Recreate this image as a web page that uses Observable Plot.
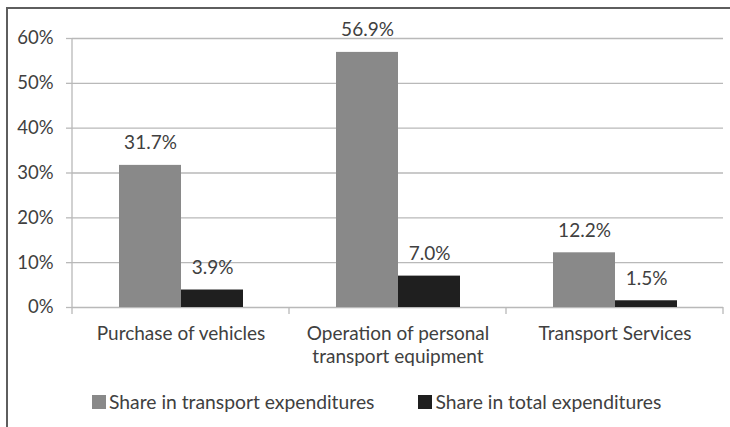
<!DOCTYPE html>
<html>
<head>
<meta charset="utf-8">
<script src="https://cdn.jsdelivr.net/npm/d3@7"></script>
<script src="https://cdn.jsdelivr.net/npm/@observablehq/plot@0.6"></script>
<style>
  html, body { margin: 0; padding: 0; background: #fff; width: 730px; height: 427px; overflow: hidden; }
  #wrap { position: relative; width: 730px; height: 427px; font-family: Lato, "Open Sans", sans-serif; color: #404040; }
  #border { position: absolute; left: 6px; top: 7px; width: 800px; height: 500px; border-top: 2px solid #5e5e5e; border-left: 2px solid #5e5e5e; pointer-events: none; }
  #chart { position: absolute; left: 0; top: 0; }
  #legend { position: absolute; left: 92px; top: 391px; display: flex; align-items: center; font-size: 19.3px; line-height: 22px; white-space: nowrap; }
  .item { display: flex; align-items: center; }
  .sw { width: 14px; height: 14px; margin-right: 3px; }
</style>
</head>
<body>
<div id="wrap">
  <div id="chart"></div>
  <div id="legend"></div>
  <div id="border"></div>
</div>
<script>
const categories = ["Purchase of vehicles", "Operation of personal\ntransport equipment", "Transport Services"];
const series = ["Share in transport expenditures", "Share in total expenditures"];
const transportShare = [0.317, 0.569, 0.122];
const totalShare = [0.039, 0.070, 0.015];
const yTicks = [0, 0.1, 0.2, 0.3, 0.4, 0.5, 0.6];
const seriesColors = ["#898989", "#1f1f1f"];

const data = categories.flatMap((c, i) => [
  {category: c, series: series[0], value: transportShare[i]},
  {category: c, series: series[1], value: totalShare[i]}
]);

const gridColor = "#b9b9b9";
const textColor = "#404040";

const plot = Plot.plot({
  width: 730,
  height: 380,
  marginLeft: 72,
  marginRight: 7,
  marginTop: 38,
  marginBottom: 73,
  style: {fontFamily: "Lato, 'Open Sans', sans-serif", fontSize: "19px", color: textColor, background: "transparent", overflow: "visible"},
  fx: {domain: categories, paddingInner: 0, paddingOuter: 0, label: null},
  x: {domain: series, paddingInner: 0, paddingOuter: 0.75, axis: null},
  y: {domain: [0, 0.6], label: null},
  color: {domain: series, range: seriesColors},
  marks: [
    Plot.gridY(yTicks, {stroke: gridColor, strokeOpacity: 1, strokeWidth: 1.3}),
    Plot.axisY(yTicks, {tickSize: 6, tickPadding: 13, tickFormat: d3.format(".0%"), stroke: gridColor, strokeWidth: 1.3, fill: textColor, label: null, fontSize: 18.5}),
    Plot.axisFx({anchor: "bottom", tickSize: 0, tickPadding: 16, lineAnchor: "top", lineHeight: 1.22, fill: textColor, label: null, fontSize: 19}),
    Plot.barY(data, {fx: "category", x: "series", y: "value", fill: "series"}),
    Plot.text(data, {fx: "category", x: "series", y: "value", text: d => d3.format(".1%")(d.value), dy: -22, fill: textColor, fontSize: 19})
  ]
});

document.getElementById("chart").appendChild(plot);

// Axis line and category boundary ticks, from Plot's own scales
const fx = plot.scale("fx");
const ys = plot.scale("y");
const edges = fx.domain.map(d => fx.apply(d));
edges.push(fx.apply(fx.domain[fx.domain.length - 1]) + fx.bandwidth);
const y0 = ys.apply(0), yTop = ys.apply(0.6);
const svg = d3.select(plot);
const g = svg.append("g").attr("stroke", gridColor).attr("stroke-width", 1.3);
edges.forEach((x, i) => {
  g.append("line").attr("x1", x).attr("x2", x)
    .attr("y1", i === 0 ? yTop : y0).attr("y2", y0 + 7);
});

// Legend
const legend = d3.select("#legend");
series.forEach((s, i) => {
  const item = legend.append("div").attr("class", "item").style("margin-right", i === 0 ? "44px" : "0");
  item.append("div").attr("class", "sw").style("background", seriesColors[i]);
  item.append("span").text(s);
});
</script>
</body>
</html>
